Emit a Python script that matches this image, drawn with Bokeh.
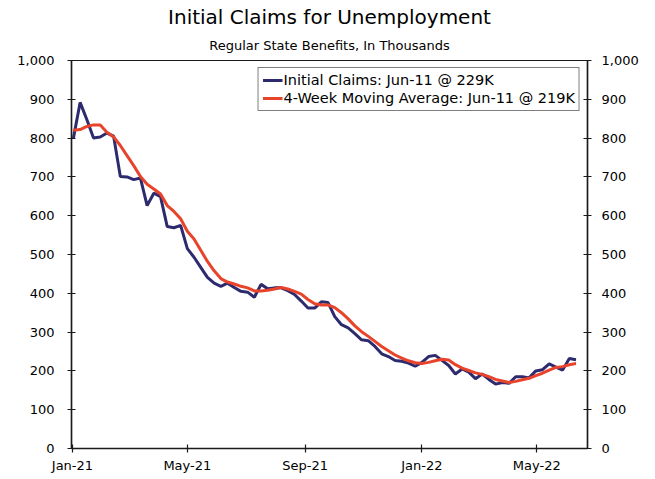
import pandas as pd
from bokeh.plotting import figure
from bokeh.models import (ColumnDataSource, LinearAxis, FixedTicker, DatetimeTickFormatter,
                          NumeralTickFormatter, Range1d, Title, Legend, LegendItem)
from bokeh.embed import file_html
from bokeh.resources import INLINE

# ---------------- data ----------------
week_ending = pd.date_range("2021-01-02", "2022-06-11", freq="7D")

initial_claims = [800, 892, 848, 800, 803, 813, 805, 701, 700, 693,
                  697, 626, 658, 649, 572, 569, 575, 515, 493, 467,
                  441, 426, 418, 426, 415, 405, 403, 390, 423, 412,
                  414, 414, 407, 397, 380, 362, 362, 378, 376, 340,
                  319, 311, 296, 280, 278, 263, 244, 237, 227, 225,
                  220, 212, 222, 237, 240, 227, 214, 192, 205, 197,
                  180, 192, 178, 166, 170, 168, 185, 185, 182, 200,
                  203, 218, 210, 202, 232, 229]

moving_average = [820, 822, 830, 834, 834, 815, 803, 781, 755, 729,
                  701, 681, 669, 656, 626, 611, 592, 560, 540, 511,
                  482, 458, 438, 429, 424, 418, 414, 406, 406, 408,
                  411, 415, 411, 405, 398, 384, 373, 370, 370, 363,
                  350, 334, 316, 301, 289, 276, 263, 252, 241, 233,
                  226, 221, 219, 222, 226, 230, 228, 216, 207, 201,
                  195, 191, 185, 178, 174, 170, 173, 177, 181, 188,
                  194, 202, 209, 211, 216, 219]

x_tick_dates = ["2021-01-01", "2021-05-01", "2021-09-01", "2022-01-01", "2022-05-01"]
y_ticks = list(range(0, 1001, 100))

legend_labels = ["Initial Claims: Jun-11 @ 229K",
                 "4-Week Moving Average: Jun-11 @ 219K"]
title_text = "Initial Claims for Unemployment"
subtitle_text = "Regular State Benefits, In Thousands"

# ---------------- style ----------------
FONT = "DejaVu Sans"
BLUE = "#2D2A6E"
RED = "#E8432B"
AXIS = "#1a1a1a"

src = ColumnDataSource(dict(date=week_ending, claims=initial_claims, avg=moving_average))

x_start = pd.Timestamp("2020-12-31 00:00")
x_end = pd.Timestamp("2022-06-23 00:00")

p = figure(width=655, height=479, x_axis_type="datetime", title=None,
           output_backend="svg", toolbar_location=None,
           x_range=Range1d(x_start, x_end), y_range=Range1d(0, 1000),
           min_border_left=71, min_border_right=68, min_border_top=60,
           min_border_bottom=31)

p.add_layout(Title(text=subtitle_text, align="center", text_font=FONT,
                   text_font_size="13px", text_font_style="normal",
                   text_color="black", standoff=16), "above")
p.add_layout(Title(text=title_text, align="center", text_font=FONT,
                   text_font_size="20px", text_font_style="normal",
                   text_color="black", standoff=-3), "above")

p.xgrid.visible = False
p.ygrid.visible = False
p.outline_line_color = AXIS
p.outline_line_width = 1.2
p.background_fill_color = "white"
p.border_fill_color = "white"

r1 = p.line(x="date", y="claims", source=src, line_color=BLUE, line_width=3)
r2 = p.line(x="date", y="avg", source=src, line_color=RED, line_width=3)

# x axis
xa = p.xaxis[0]
xa.ticker = FixedTicker(ticks=[pd.Timestamp(d).value // 10**6 for d in x_tick_dates])
fmt = "%b-%y"
xa.formatter = DatetimeTickFormatter(days=fmt, months=fmt, years=fmt, hours=fmt)

# right axis
ra = LinearAxis()
p.add_layout(ra, "right")

for ax in [p.yaxis[0], ra]:
    ax.ticker = FixedTicker(ticks=y_ticks)
    ax.formatter = NumeralTickFormatter(format="0,0")

for ax in [xa, p.yaxis[0], ra]:
    ax.major_tick_in = 4
    ax.major_tick_out = 4
    ax.minor_tick_in = 0
    ax.minor_tick_out = 0
    ax.axis_line_color = AXIS
    ax.axis_line_width = 1.5
    ax.major_tick_line_color = AXIS
    ax.major_tick_line_width = 1.2
    ax.major_label_text_font = FONT
    ax.major_label_text_font_size = "13px"
    ax.major_label_text_color = "black"

xa.major_label_standoff = 5
p.yaxis[0].major_label_standoff = 13
ra.major_label_standoff = 10

legend = Legend(items=[LegendItem(label=legend_labels[0], renderers=[r1]),
                       LegendItem(label=legend_labels[1], renderers=[r2])],
                location="top_right")
legend.border_line_color = "black"
legend.border_line_width = 1
legend.background_fill_alpha = 1.0
legend.label_text_font = FONT
legend.label_text_font_size = "14.5px"
legend.label_text_color = "black"
legend.glyph_width = 20
legend.glyph_height = 16
legend.label_height = 16
legend.label_standoff = 1
legend.spacing = 2
legend.padding = 4
legend.margin = 7
p.add_layout(legend)

open("out.html", "w").write(file_html(p, INLINE))
